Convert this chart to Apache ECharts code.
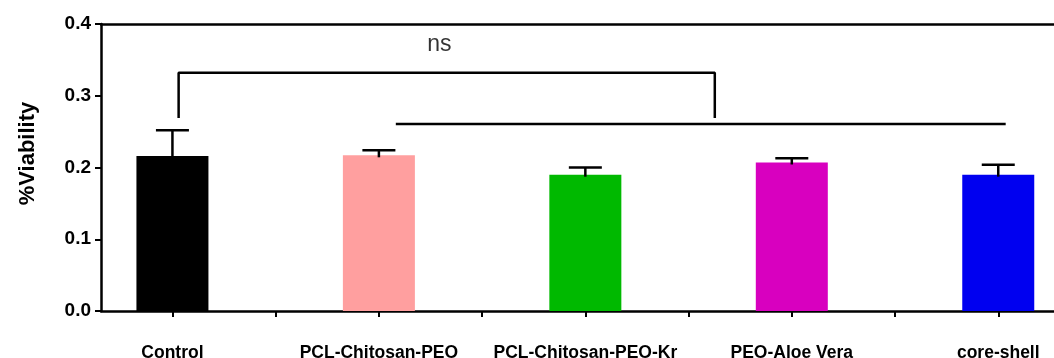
<!DOCTYPE html>
<html>
<head>
<meta charset="utf-8">
<script src="https://cdn.jsdelivr.net/npm/echarts@6/dist/echarts.min.js"></script>
<style>
  html, body { margin: 0; padding: 0; background: #fff; }
  #chart { width: 1054px; height: 358px; }
</style>
</head>
<body>
<div id="chart"></div>
<script>
// groups on the x axis (bar centers at 0..4)
const categories = ['Control', 'PCL-Chitosan-PEO', 'PCL-Chitosan-PEO-Kr', 'PEO-Aloe Vera', 'core-shell']
const viability = [0.216, 0.217, 0.190, 0.207, 0.190]
const errors = [0.036, 0.007, 0.010, 0.006, 0.014]
const barColors = ['#000000', '#ff9f9f', '#00b900', '#d800bf', '#0000f0']

const yTicks = [0, 0.1, 0.2, 0.3, 0.4]
const xTicks = [0, 0.5, 1, 1.5, 2, 2.5, 3, 3.5, 4]
const xLabelTicks = [0, 1, 2, 3, 4]

// significance bracket (data units)
const bracketNs = [[0.03, 0.269], [0.03, 0.332], [2.627, 0.332], [2.627, 0.269]]
const groupLine = [[1.082, 0.2606], [4.036, 0.2606]]
const nsLabel = [[1.293, 0.371]]

const FONT = 'Liberation Sans, Arial, Helvetica, sans-serif'

const chart = echarts.init(document.getElementById('chart'))

const errData = categories.map((c, i) => [i, viability[i], errors[i]])
const barData = viability.map((v, i) => ({
  value: [i, v],
  itemStyle: { color: barColors[i] }
}))

const option = {
  animation: false,
  grid: {
    left: 101,
    right: 0,
    top: 24,
    bottom: 47,
    containLabel: false,
    outerBoundsMode: 'none'
  },
  xAxis: [
    {
      type: 'value',
      min: -0.346,
      max: 4.27,
      axisLine: { show: true, onZero: false, lineStyle: { color: '#000', width: 2.5 } },
      axisTick: {
        show: true,
        customValues: xTicks,
        length: 6,
        lineStyle: { color: '#000', width: 2 }
      },
      axisLabel: {
        customValues: xLabelTicks,
        formatter: v => categories[Math.round(v)],
        margin: 33,
        color: '#000',
        fontFamily: FONT,
        fontWeight: 'bold',
        fontSize: 17.5
      },
      splitLine: { show: false }
    },
    {
      // top frame line at 0.4
      type: 'value',
      position: 'top',
      min: -0.346,
      max: 4.27,
      axisLine: { show: true, onZero: false, lineStyle: { color: '#000', width: 2.5 } },
      axisTick: { show: false },
      axisLabel: { show: false },
      splitLine: { show: false }
    }
  ],
  yAxis: {
    type: 'value',
    min: 0,
    max: 0.4,
    interval: 0.1,
    name: '%Viability',
    nameLocation: 'middle',
    nameGap: 62,
    nameTextStyle: {
      color: '#000',
      fontFamily: FONT,
      fontWeight: 'bold',
      fontSize: 22,
      padding: [0, 0, 0, 28]
    },
    axisLine: { show: true, onZero: false, lineStyle: { color: '#000', width: 2.5 } },
    axisTick: { show: true, length: 6, lineStyle: { color: '#000', width: 2 } },
    axisLabel: {
      customValues: yTicks,
      formatter: v => v.toFixed(1),
      margin: 10,
      color: '#000',
      fontFamily: FONT,
      fontWeight: 'bold',
      fontSize: 19
    },
    splitLine: { show: false }
  },
  series: [
    {
      type: 'bar',
      data: barData,
      barWidth: 72,
      silent: true
    },
    {
      type: 'custom',
      data: errData,
      silent: true,
      z: 3,
      renderItem: (params, api) => {
        const x = api.value(0)
        const m = api.value(1)
        const e = api.value(2)
        const base = api.coord([x, m])
        const top = api.coord([x, m + e])
        const style = { stroke: '#000', lineWidth: 2.5 }
        return {
          type: 'group',
          children: [
            { type: 'line', shape: { x1: base[0], y1: base[1] + 2, x2: top[0], y2: top[1] }, style },
            { type: 'line', shape: { x1: top[0] - 16.5, y1: top[1], x2: top[0] + 16.5, y2: top[1] }, style }
          ]
        }
      }
    },
    {
      type: 'line',
      data: bracketNs,
      symbol: 'none',
      silent: true,
      lineStyle: { color: '#000', width: 2.5 }
    },
    {
      type: 'line',
      data: groupLine,
      symbol: 'none',
      silent: true,
      lineStyle: { color: '#000', width: 2.5 }
    },
    {
      type: 'scatter',
      data: nsLabel,
      symbolSize: 0,
      silent: true,
      label: {
        show: true,
        position: 'inside',
        formatter: 'ns',
        color: '#000',
        textBorderWidth: 0,
        fontFamily: FONT,
        fontSize: 23
      }
    }
  ]
}

chart.setOption(option)
</script>
</body>
</html>
